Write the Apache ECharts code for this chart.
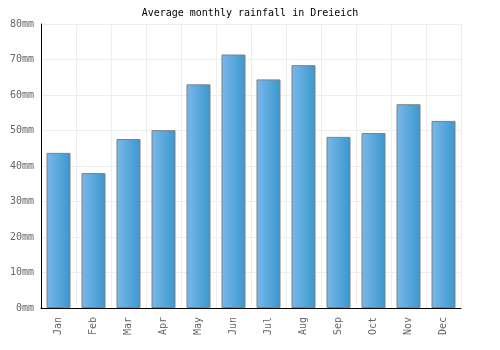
<!DOCTYPE html>
<html lang="en">
<head>
    <meta charset="UTF-8">
    <title>Average monthly rainfall in Dreieich</title>
    <script type="text/javascript" src="https://cdn.jsdelivr.net/npm/echarts@6/dist/echarts.min.js"></script>
    <style>
        html, body { margin: 0; padding: 0; background: #fff; }
    </style>
</head>
<body>
<div id="main" style="width:500px;height:350px;"></div>
<script type="text/javascript">
    // 数据
    var months = ['Jan', 'Feb', 'Mar', 'Apr', 'May', 'Jun', 'Jul', 'Aug', 'Sep', 'Oct', 'Nov', 'Dec'];
    var rainfall = [43.7, 38.0, 47.6, 50.1, 63.0, 71.4, 64.4, 68.4, 48.2, 49.3, 57.4, 52.7];
    var yTicks = [0, 10, 20, 30, 40, 50, 60, 70, 80];

    var font = 'DejaVu Sans Mono';
    var myChart = echarts.init(document.getElementById('main'));
    var option = {
        animation: false,
        title: {
            text: 'Average monthly rainfall in Dreieich',
            left: 'center',
            top: 3,
            textStyle: { fontFamily: font, fontSize: 10, fontWeight: 'normal', color: '#000' }
        },
        grid: { left: 41, right: 39, top: 24, bottom: 42 },
        xAxis: {
            type: 'category',
            data: months,
            axisLine: { lineStyle: { color: '#000', width: 1 } },
            axisTick: { show: false },
            axisLabel: { rotate: 90, color: '#666', fontFamily: font, fontSize: 10, margin: 9 },
            splitLine: { show: true, lineStyle: { color: '#eee' } }
        },
        yAxis: {
            type: 'value',
            min: yTicks[0],
            max: yTicks[yTicks.length - 1],
            interval: 10,
            axisLine: { show: true, lineStyle: { color: '#000', width: 1 } },
            axisTick: { show: false },
            axisLabel: { color: '#666', fontFamily: font, fontSize: 10, margin: 7, formatter: '{value}mm' },
            splitLine: { lineStyle: { color: '#eee' } }
        },
        series: [{
            type: 'bar',
            data: rainfall,
            barWidth: 24,
            itemStyle: {
                borderColor: '#808080',
                borderWidth: 1,
                color: new echarts.graphic.LinearGradient(0, 0, 1, 0, [
                    { offset: 0, color: '#7ab8ea' },
                    { offset: 1, color: '#3a97ce' }
                ])
            }
        }]
    };
    myChart.setOption(option);
</script>
</body>
</html>
